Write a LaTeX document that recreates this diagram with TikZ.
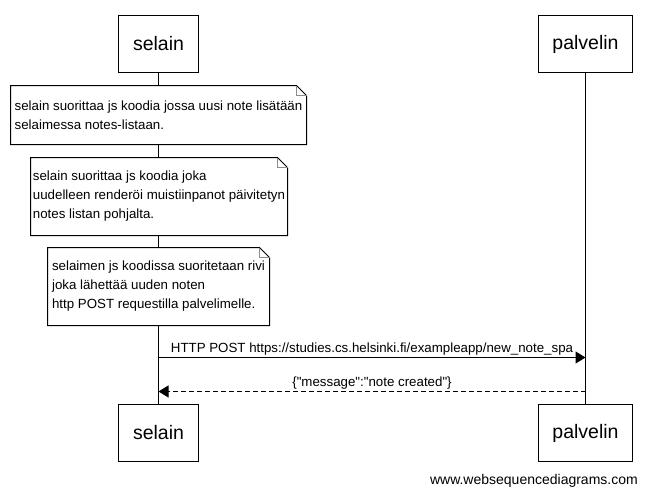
\documentclass[tikz,border=0pt]{standalone}
\usepackage{fontspec}
\setmainfont{Liberation Sans}[Ligatures=TeXOff]
\usetikzlibrary{arrows.meta,positioning,backgrounds}
\definecolor{foldcolor}{RGB}{140,140,140}

\begin{document}
\begin{tikzpicture}[x=1pt,y=-1pt,line width=1pt,
    actor/.style={draw,fill=white,minimum width=#1,minimum height=57pt,inner sep=0pt,
        font=\fontsize{19.5}{23}\selectfont},
    note/.style={anchor=north west,align=left,inner sep=0pt,
        font=\fontsize{13.3}{19}\selectfont},
    msg/.style={inner sep=2pt,font=\fontsize{13.3}{15}\selectfont}]

    \useasboundingbox (0,0) rectangle (647,495);

    % Draw participants
    \node[actor=80pt] (selainTop) at (158.5,44) {selain};
    \node[actor=94pt] (palvelinTop) at (585.5,44) {palvelin};
    \node[actor=80pt] (selainBot) at (158.5,433) {selain};
    \node[actor=94pt] (palvelinBot) at (585.5,433) {palvelin};

    % Draw notes
    \node[note,minimum width=295pt,minimum height=58pt] (noteA) at (10.5,85.5)
        {selain suorittaa js koodia jossa uusi note lisätään\\selaimessa notes-listaan.};
    \node[note,minimum width=256pt,minimum height=77pt] (noteB) at (30.5,157.5)
        {selain suorittaa js koodia joka\\uudelleen renderöi muistiinpanot päivitetyn\\notes listan pohjalta.};
    \node[note,minimum width=221pt,minimum height=77pt] (noteC) at (47.5,247.5)
        {selaimen js koodissa suoritetaan rivi\\joka lähettää uuden noten\\http POST requestilla palvelimelle.};

    % Draw lifelines and note frames
    \begin{scope}[on background layer,every path/.style={line width=1pt}]
        \draw (selainTop) -- (selainBot);
        \draw (palvelinTop) -- (palvelinBot);
        \foreach \n in {noteA,noteB,noteC} {
            \draw[fill=white] (\n.south west) -- (\n.north west) -- ([xshift=-10pt]\n.north east)
                -- ([yshift=-10pt]\n.north east) -- (\n.south east) -- cycle;
            \draw[foldcolor] ([xshift=-10pt]\n.north east) |- ([yshift=-10pt]\n.north east);
        }
    \end{scope}

    % Draw messages
    \coordinate (reqFrom) at (selainTop.south |- 0,357.5);
    \coordinate (reqTo) at (palvelinTop.south |- 0,357.5);
    \coordinate (resFrom) at (palvelinTop.south |- 0,391.5);
    \coordinate (resTo) at (selainTop.south |- 0,391.5);
    \draw[-{Triangle[length=10pt,width=12pt]}] (reqFrom) -- (reqTo)
        node[midway,above=0pt,msg] {HTTP POST https://studies.cs.helsinki.fi/exampleapp/new\_note\_spa};
    \draw[dash pattern=on 5pt off 3pt,-{Triangle[length=10pt,width=12pt]}] (resFrom) -- (resTo)
        node[midway,above=0pt,msg] {\{"message":"note created"\}};

    % Labels
    \node[anchor=east,inner sep=0pt,font=\fontsize{14}{16}\selectfont] (wsd) at (638.3,481)
        {www.websequencediagrams.com};
\end{tikzpicture}
\end{document}
